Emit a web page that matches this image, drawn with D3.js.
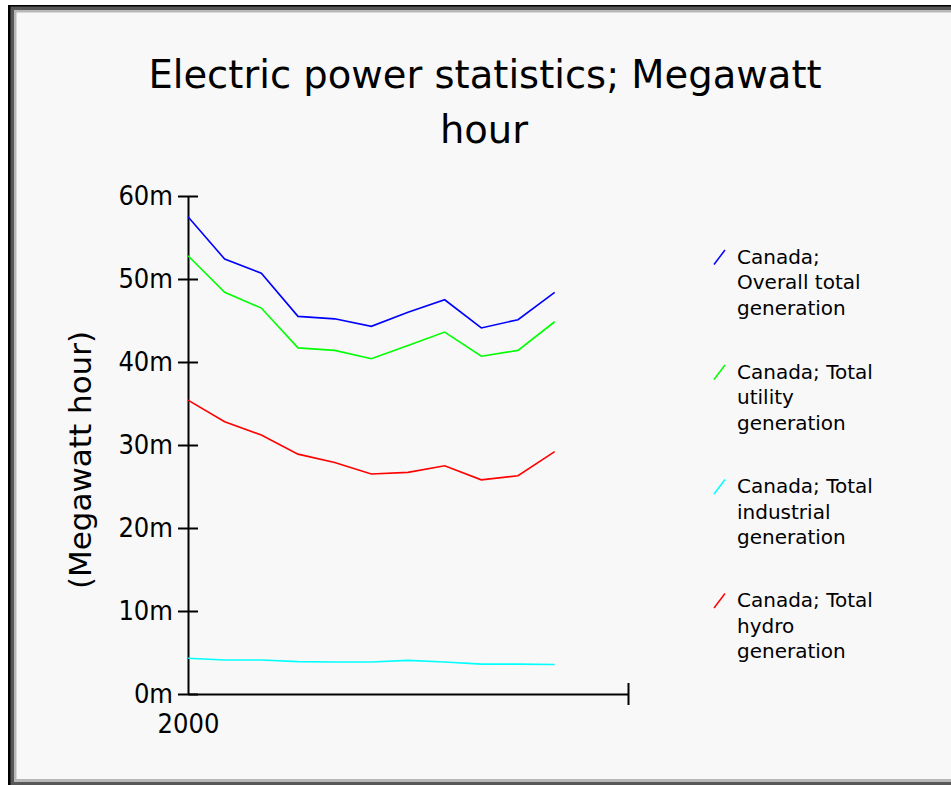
<!DOCTYPE html>
<html>
<head>
<meta charset="utf-8">
<script src="https://cdn.jsdelivr.net/npm/d3@7"></script>
<style>
  html, body { margin: 0; padding: 0; background: #ffffff; }
  svg { display: block; }
  text { font-family: "DejaVu Sans", sans-serif; fill: #000; }
  .cond { font-family: "DejaVu Sans Condensed", "DejaVu Sans", sans-serif; }
</style>
</head>
<body>
<svg id="chart" width="951" height="785"></svg>
<script>
const years = [2000, 2001, 2002, 2003, 2004, 2005, 2006, 2007, 2008, 2009, 2010];
const overallTotal = [57.5, 52.4, 50.7, 45.5, 45.2, 44.3, 46.0, 47.5, 44.1, 45.1, 48.4];
const utilityTotal = [52.8, 48.4, 46.5, 41.7, 41.4, 40.4, 42.0, 43.6, 40.7, 41.4, 44.85];
const industrialTotal = [4.3, 4.1, 4.1, 3.9, 3.85, 3.85, 4.05, 3.85, 3.6, 3.6, 3.55];
const hydroTotal = [35.4, 32.8, 31.2, 28.9, 27.9, 26.5, 26.7, 27.5, 25.8, 26.3, 29.2];
const seriesNames = [
  ["Canada;", "Overall total", "generation"],
  ["Canada; Total", "utility", "generation"],
  ["Canada; Total", "industrial", "generation"],
  ["Canada; Total", "hydro", "generation"]
];
const seriesColors = ["#0000ff", "#00ff00", "#00ffff", "#ff0000"];
const yTicks = [0, 10, 20, 30, 40, 50, 60];
const xTickLabel = "2000";
const titleLines = ["Electric power statistics; Megawatt", "hour"];
const yLabel = "(Megawatt hour)";

const allSeries = [overallTotal, utilityTotal, industrialTotal, hydroTotal];

const svg = d3.select("#chart");

// frame
svg.append("rect").attr("x", 8).attr("y", 5).attr("width", 960).attr("height", 790).attr("fill", "#000");
svg.append("rect").attr("x", 10.5).attr("y", 6.5).attr("width", 960).attr("height", 790).attr("fill", "#585858");
svg.append("rect").attr("x", 14).attr("y", 10).attr("width", 960).attr("height", 772).attr("fill", "#b8b8b8");
svg.append("rect").attr("x", 16.5).attr("y", 12.5).attr("width", 960).attr("height", 766.5).attr("fill", "#f8f8f8");

const x = d3.scaleLinear().domain([2000, 2012]).range([188, 628]);
const y = d3.scaleLinear().domain([0, 60]).range([694, 196]);

// title
const title = svg.append("text").attr("text-anchor", "middle").style("font-size", "38.5px");
title.append("tspan").attr("x", 485).attr("y", 88).text(titleLines[0]);
title.append("tspan").attr("x", 484).attr("y", 143).text(titleLines[1]);

// y axis label
svg.append("text")
  .attr("transform", "translate(91,460) rotate(-90)")
  .attr("text-anchor", "middle")
  .style("font-size", "31px")
  .text(yLabel);

// y axis
const yAxis = d3.axisLeft(y).tickValues(yTicks).tickSizeInner(10).tickSizeOuter(0).tickPadding(5)
  .tickFormat(d => d + "m");
const gy = svg.append("g").attr("transform", "translate(188,0)").call(yAxis);
gy.select(".domain").attr("stroke", "#000").attr("stroke-width", 2);
gy.selectAll(".tick line").attr("x1", 10).attr("stroke", "#000").attr("stroke-width", 2);
gy.selectAll(".tick text").attr("font-family", null).attr("class", "cond").style("font-size", "27px").attr("fill", "#000");

// x axis
const xAxis = d3.axisBottom(x).tickValues([2000, 2012]).tickSizeInner(11).tickSizeOuter(0).tickPadding(9)
  .tickFormat(d => d === 2000 ? xTickLabel : "");
const gx = svg.append("g").attr("transform", "translate(0,694)").call(xAxis);
gx.select(".domain").attr("stroke", "#000").attr("stroke-width", 2);
gx.selectAll(".tick line").attr("y1", -11).attr("stroke", "#000").attr("stroke-width", 2)
  .attr("opacity", d => d === 2000 ? 0 : 1);
gx.selectAll(".tick text").attr("font-family", null).attr("class", "cond").style("font-size", "27px").attr("fill", "#000");

// lines
const line = d3.line().x((d, i) => x(years[i])).y(d => y(d));
allSeries.forEach((s, k) => {
  svg.append("path").datum(s).attr("d", line).attr("fill", "none")
    .attr("stroke", seriesColors[k]).attr("stroke-width", 1.6);
});

// legend
const legBaselines = [263.5, 378.5, 493, 607];
seriesNames.forEach((lines, k) => {
  const g = svg.append("g").attr("transform", `translate(0,${legBaselines[k]})`);
  g.append("line").attr("x1", 714).attr("y1", 1).attr("x2", 725).attr("y2", -13.5)
    .attr("stroke", seriesColors[k]).attr("stroke-width", 1.5);
  const t = g.append("text").style("font-size", "20px");
  lines.forEach((ln, j) => {
    t.append("tspan").attr("x", 737).attr("y", j * 25.5).text(ln);
  });
});
</script>
</body>
</html>
